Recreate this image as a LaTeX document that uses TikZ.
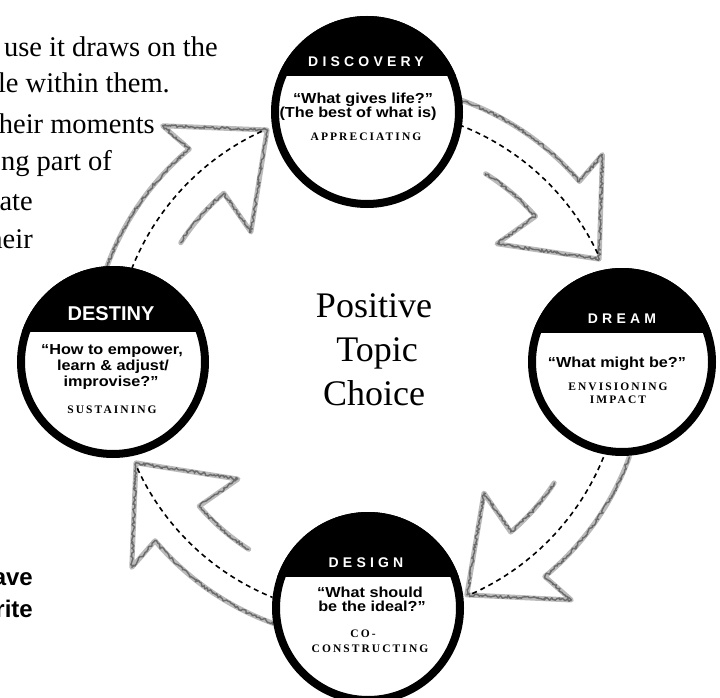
\documentclass[tikz,border=0pt]{standalone}
\usepackage{fontspec}
\setmainfont{Liberation Serif}
\newfontfamily\qfont{Liberation Sans}[FakeStretch=1.12]
\newfontfamily\hfont{Liberation Sans}[LetterSpace=30]
\newfontfamily\lfont{Liberation Serif}[LetterSpace=18]
\newfontfamily\sfont{Liberation Sans}
\usetikzlibrary{calc,decorations.pathmorphing}

% name, cx, cy, radius, chord y
\newcommand\phasedisk[5]{%
  \node[circle, minimum size=2*#4 pt, inner sep=0pt] (#1) at (#2,#3) {};
  \begin{scope}
    \clip (#1.center) circle[radius=#4];
    \fill[white] (#1.center) circle[radius=#4];
    \fill[black] (#2-110,#3-110) rectangle (#2+110,#5);
  \end{scope}
  \draw[ring] (#1.center) circle[radius=#4-4];
}
% tip angle (tikz angle, y axis points down)
\newcommand\cyclearrow[2]{%
  \coordinate (#2-end) at ($(C)+(#1-47:278)$);
  \draw[arrowedge] (#2-end) arc[start angle=#1-47, end angle=#1-16.5, radius=278]
    -- ($(C)+(#1-17.5:313)$) -- ($(C)+(#1:253)$) -- ($(C)+(#1-18.5:175)$)
    -- ($(C)+(#1-17:222)$) arc[start angle=#1-17, end angle=#1-34, radius=222];
  \coordinate (#2-dash) at ($(C)+(#1-45:254)$);
  \draw[dashedarc] (#2-dash) arc[start angle=#1-45, end angle=#1-1, radius=254];
}

\begin{document}
\begin{tikzpicture}[x=1pt,y=-1pt,
  arrowedge/.style={draw=black!27, line width=5pt, line join=round, line cap=round,
    postaction={draw=black!58, line width=1.4pt, decorate,
      decoration={random steps, segment length=1.6pt, amplitude=1.5pt}}},
  dashedarc/.style={draw=black, line width=1.6pt, dash pattern=on 5pt off 4pt},
  ring/.style={draw=black, line width=8pt},
  hdr/.style={text=white, font=\hfont\bfseries\fontsize{14}{14}\selectfont, anchor=base, inner sep=0pt},
  quote/.style={font=\qfont\bfseries\fontsize{14.5}{15}\selectfont, anchor=base, inner sep=0pt},
  lbl/.style={font=\lfont\bfseries\fontsize{11.5}{12}\selectfont, anchor=base, inner sep=0pt},
  body/.style={font=\fontsize{28.5}{30}\selectfont, anchor=base east, inner sep=0pt},
  bodybold/.style={font=\sfont\bfseries\fontsize{24}{26}\selectfont, anchor=base east, inner sep=0pt},
  center/.style={font=\fontsize{36}{40}\selectfont, anchor=base, inner sep=0pt}]

\fill[white] (0,0) rectangle (720,698);
\useasboundingbox (0,0) rectangle (720,698);

\coordinate (C) at (368,362);

% left body text (clipped by page edge)
\node[body] (t1) at (218,57) {use it draws on the};
\node[body] (t2) at (170,93) {le within them.};
\node[body] (t3) at (155,134) {heir moments};
\node[body] (t4) at (112,170) {ng part of};
\node[body] (t5) at (33,210) {ate};
\node[body] (t6) at (33,248) {heir};
\node[bodybold] (t7) at (33,585) {ave};
\node[bodybold] (t8) at (33,617) {rite};

% cycle arrows
\cyclearrow{-113.5}{a1}
\cyclearrow{-24}{a2}
\cyclearrow{67}{a3}
\cyclearrow{156.5}{a4}

% phase disks
\phasedisk{disc}{367}{112}{96}{76}
\phasedisk{dream}{622}{362}{94}{333}
\phasedisk{dest}{113}{362}{96}{332}
\phasedisk{design}{368}{608}{96}{577}

% centre text
\node[center] (p1) at (374,317) {Positive};
\node[center] (p2) at (377,361) {Topic};
\node[center] (p3) at (374,405) {Choice};

% Discovery
\node[hdr] (discH) at (366,67) {DISCOVERY};
\node[quote] (discQ1) at (363,104) {“What gives life?”};
\node[quote] (discQ2) at (358,118) {(The best of what is)};
\node[lbl] (discL) at (366,140) {APPRECIATING};

% Dream
\node[hdr] (dreamH) at (622,323) {DREAM};
\node[quote] (dreamQ) at (617,367) {“What might be?”};
\node[lbl] (dreamL1) at (618,390) {ENVISIONING};
\node[lbl] (dreamL2) at (618,403) {IMPACT};

% Destiny
\node[font=\sfont\bfseries\fontsize{20}{20}\selectfont, text=white, anchor=base, inner sep=0pt] (destH) at (111,320) {DESTINY};
\node[quote] (destQ1) at (112,354) {“How to empower,};
\node[quote] (destQ2) at (113,370) {learn \& adjust/};
\node[quote] (destQ3) at (111,386) {improvise?”};
\node[lbl] (destL) at (112,413) {SUSTAINING};

% Design
\node[hdr] (desH) at (366,567) {DESIGN};
\node[quote] (desQ1) at (370,597) {“What should};
\node[quote] (desQ2) at (372,611) {be the ideal?”};
\node[lbl] (desL1) at (363,637) {CO-};
\node[lbl] (desL2) at (370,652) {CONSTRUCTING};

\end{tikzpicture}
\end{document}
